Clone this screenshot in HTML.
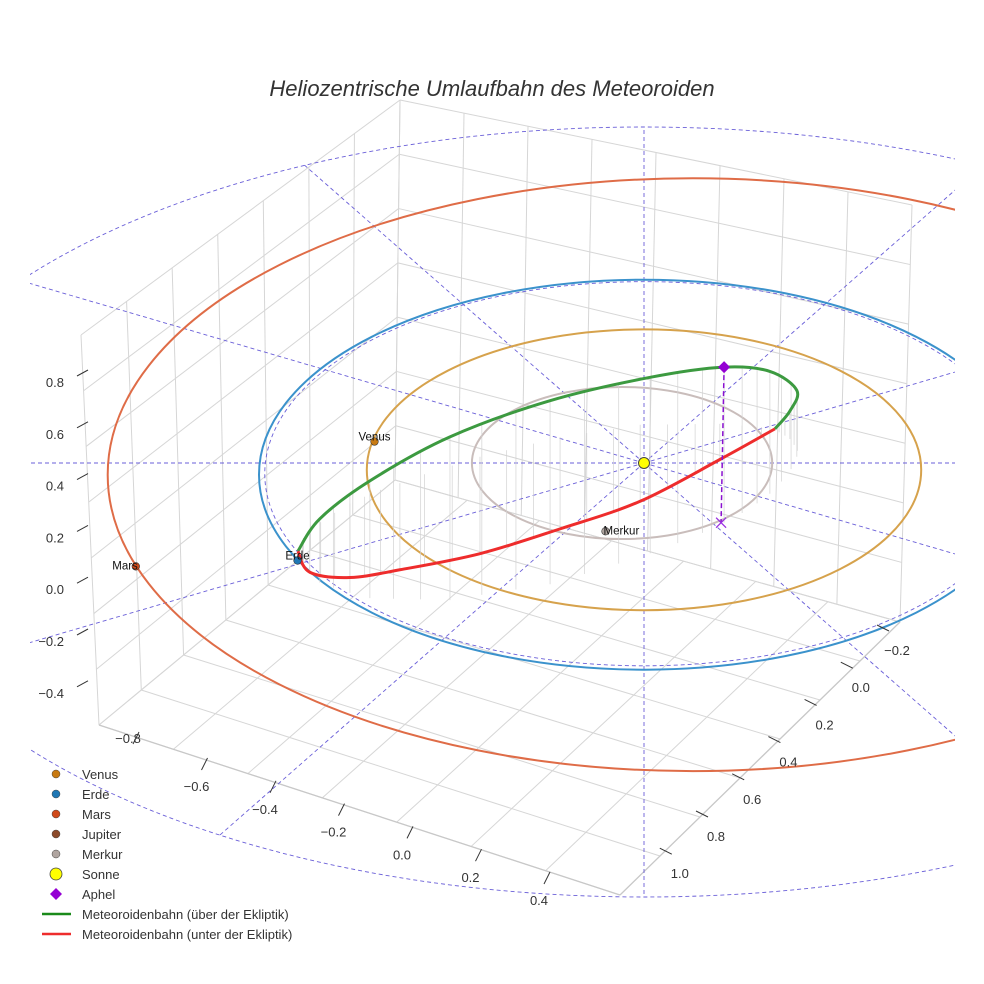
<!DOCTYPE html>
<html><head><meta charset="utf-8"><style>
body{margin:0;background:#fff}
svg{display:block;font-family:"Liberation Sans",sans-serif}
</style></head><body>
<svg id="c" width="984" height="984" viewBox="0 0 984 984">
<rect width="984" height="984" fill="#fff"/>
<defs><clipPath id="clip"><rect x="30" y="0" width="925" height="984"/></clipPath></defs>
<g id="grid"></g>
<g id="plot" clip-path="url(#clip)"></g>
<g id="ticks"></g>
<text x="492" y="96" text-anchor="middle" font-size="22" font-style="italic" fill="#333">Heliozentrische Umlaufbahn des Meteoroiden</text>
<g id="legend"></g>
</svg>
<script>
// ---- data ----
const planetNames = ["Venus","Erde","Mars","Merkur"];
const planetU = [-0.70,-0.90,-1.32,-0.10];
const planetV = [-0.11,0.50,0.53,0.35];
const orbitNames = ["Merkur","Venus","Erde","Mars"];
const orbitR = [0.39,0.72,1.0,1.52];
const orbitCU = [-0.057,0,0,0.127];
const orbitCV = [0,0.035,0.06,0.06];
const greenU = [-0.899,-0.842,-0.712,-0.504,-0.244,0.016,0.208,0.327,0.397,0.379,0.340];
const greenV = [0.452,0.613,0.693,0.703,0.622,0.463,0.306,0.158,-0.032,-0.123,-0.175];
const greenZ = [0,0.25,0.46,0.64,0.72,0.69,0.61,0.48,0.26,0.11,0];
const redU = [0.340,0.197,-0.010,-0.218,-0.426,-0.634,-0.764,-0.868,-0.899];
const redV = [-0.175,-0.201,-0.196,-0.133,-0.032,0.103,0.208,0.351,0.452];
const redZ = [0,-0.14,-0.30,-0.36,-0.38,-0.34,-0.29,-0.16,0];
const aphel = [0.208,0.306,0.61];
const zTicks = ["0.8","0.6","0.4","0.2","0.0","−0.2","−0.4"];
const xTicks = ["−0.8","−0.6","−0.4","−0.2","0.0","0.2","0.4"];
const yTicks = ["−0.2","0.0","0.2","0.4","0.6","0.8","1.0"];
const rayAngles = [0,30,60,90,120,150,180,210,240,270,300,330];
const legendLabels = ["Venus","Erde","Mars","Jupiter","Merkur","Sonne","Aphel","Meteoroidenbahn (über der Ekliptik)","Meteoroidenbahn (unter der Ekliptik)"];

// ---- projection ----
const CX=644, CY=463, SU=385, SV=195, SZ=255;
const px=(u)=>CX+SU*u;
const py=(v,z)=>CY+SV*v-SZ*(z||0);
const NS="http://www.w3.org/2000/svg";
function mk(tag,attrs,parent){const e=document.createElementNS(NS,tag);for(const k in attrs)e.setAttribute(k,attrs[k]);parent.appendChild(e);return e;}
const grid=document.getElementById('grid'), plot=document.getElementById('plot'), ticks=document.getElementById('ticks'), legend=document.getElementById('legend');

// ---- box grid ----
const A=[99,725],B=[620,895],C=[900,622],D=[395,480],A2=[81,335],D2=[400,100],C2=[912,205];
const L=(p,q,t)=>[p[0]+(q[0]-p[0])*t,p[1]+(q[1]-p[1])*t];
function gl(p,q,w,col){const e=mk('line',{x1:p[0],y1:p[1],x2:q[0],y2:q[1],stroke:col||'#d6d6d6','stroke-width':w||1},grid);
}
for(let i=0;i<=7;i++){const t=i/7;gl(L(A,D,t),L(A2,D2,t));}
for(let i=0;i<=7;i++){const t=i/7;gl(L(A,A2,t),L(D,D2,t));}
for(let i=0;i<=8;i++){const t=i/8;gl(L(D,C,t),L(D2,C2,t));}
for(let i=0;i<=7;i++){const t=i/7;gl(L(D,D2,t),L(C,C2,t));}
for(let i=0;i<=7;i++){const t=i/7;gl(L(A,B,t),L(D,C,t));}
for(let i=0;i<=7;i++){const t=i/7;gl(L(A,D,t),L(B,C,t));}
gl(A,B,1.3,'#c8c8c8');gl(B,C,1.3,'#c8c8c8');

// ---- ticks ----
zTicks.forEach((s,i)=>{const y=382+i*51.8;
const t=mk('text',{x:64,y:y+5,'text-anchor':'end','font-size':13,fill:'#333'},ticks);t.textContent=s;

const m=mk('line',{x1:77,y1:y-6,x2:88,y2:y-12,stroke:'#333','stroke-width':1},ticks);
});
xTicks.forEach((s,i)=>{let x=128+i*68.5,y=786+ (i-1)*22.8; if(i===0)y=738;
const t=mk('text',{x:x,y:y+5,'text-anchor':'middle','font-size':13,fill:'#333'},ticks);t.textContent=s;

const bx=x+8,by=(i===0?760:y)-22;
const m=mk('line',{x1:bx-3,y1:by+6,x2:bx+3,y2:by-6,stroke:'#333','stroke-width':1},ticks);
});
yTicks.forEach((s,i)=>{const x=897-i*36.2,y=650+i*37.2;
const t=mk('text',{x:x,y:y+5,'text-anchor':'middle','font-size':13,fill:'#333'},ticks);t.textContent=s;

const m=mk('line',{x1:x-20,y1:y-25,x2:x-8,y2:y-19,stroke:'#333','stroke-width':1},ticks);
});

// ---- dashed outer ellipse & rays ----
const OE={cx:644,cy:512,rx:780,ry:385};
let e=mk('ellipse',{cx:OE.cx,cy:OE.cy,rx:OE.rx,ry:OE.ry,fill:'none',stroke:'#6a5fd8','stroke-width':0.9,'stroke-dasharray':'4,3'},plot);

rayAngles.forEach(a=>{const th=a*Math.PI/180;const dx=SU*Math.cos(th),dy=SV*Math.sin(th);
const ox=(CX-OE.cx)/OE.rx,oy=(CY-OE.cy)/OE.ry,ddx=dx/OE.rx,ddy=dy/OE.ry;
const qa=ddx*ddx+ddy*ddy,qb=2*(ox*ddx+oy*ddy),qc=ox*ox+oy*oy-1;
const t=(-qb+Math.sqrt(qb*qb-4*qa*qc))/(2*qa);
const r=mk('line',{x1:CX,y1:CY,x2:CX+dx*t,y2:CY+dy*t,stroke:'#6a5fd8','stroke-width':0.9,'stroke-dasharray':'4,3'},plot);
});
function ell(r,cu,cv,col,w,dash,name){const e=mk('ellipse',{cx:px(cu),cy:py(cv),rx:SU*r,ry:SV*r,fill:'none',stroke:col,'stroke-width':w},plot);
if(dash)e.setAttribute('stroke-dasharray',dash);}
ell(0.985,0,0.055,'#6a5fd8',0.9,'4,3','reference-circle-1au');
const orbitCols=['#c9bdbb','#d6a24c','#3b92cc','#df6c47'];
orbitR.forEach((r,i)=>ell(r,orbitCU[i],orbitCV[i],orbitCols[i],2,null,'orbit-'+orbitNames[i].toLowerCase()));

// ---- meteoroid ----
function pts(U,V,Z){return U.map((u,i)=>[px(u),py(V[i],Z[i]),px(u),py(V[i],0)]);}
function cr(P){let d='M'+P[0][0]+','+P[0][1];const samples=[];
for(let i=0;i<P.length-1;i++){const p0=P[Math.max(0,i-1)],p1=P[i],p2=P[i+1],p3=P[Math.min(P.length-1,i+2)];
const c1=[p1[0]+(p2[0]-p0[0])/6,p1[1]+(p2[1]-p0[1])/6],c2=[p2[0]-(p3[0]-p1[0])/6,p2[1]-(p3[1]-p1[1])/6];
d+=` C${c1[0]},${c1[1]} ${c2[0]},${c2[1]} ${p2[0]},${p2[1]}`;
for(let k=0;k<3;k++){const t=k/3,mt=1-t;
const bx=mt*mt*mt*p1[0]+3*mt*mt*t*c1[0]+3*mt*t*t*c2[0]+t*t*t*p2[0];
const by=mt*mt*mt*p1[1]+3*mt*mt*t*c1[1]+3*mt*t*t*c2[1]+t*t*t*p2[1];
const fy=p1[3]+(p2[3]-p1[3])*t;samples.push([bx,by,fy]);}}
return {d,samples};}
const G=cr(pts(greenU,greenV,greenZ)), R=cr(pts(redU,redV,redZ));
G.samples.concat(R.samples).forEach(s=>{const l=mk('line',{x1:s[0],y1:s[1],x2:s[0],y2:s[2],stroke:'#d2d2d2','stroke-width':0.7},plot);
});
e=mk('path',{d:G.d,fill:'none',stroke:'#3c9a40','stroke-width':3},plot);

e=mk('path',{d:R.d,fill:'none',stroke:'#ee2c2c','stroke-width':3},plot);

// aphel
const ax=px(aphel[0]),ay=py(aphel[1],aphel[2]),fy=py(aphel[1],0);
e=mk('line',{x1:ax,y1:ay,x2:ax-3,y2:fy,stroke:'#8a10d0','stroke-width':1.5,'stroke-dasharray':'5,3'},plot);

e=mk('path',{d:`M${ax},${ay-6}L${ax+6},${ay}L${ax},${ay+6}L${ax-6},${ay}Z`,fill:'#9400d3'},plot);

e=mk('path',{d:`M${ax-8},${fy-5}L${ax+2},${fy+5}M${ax+2},${fy-5}L${ax-8},${fy+5}`,stroke:'#9a30e0','stroke-width':1.3},plot);

// planets
const pcols=['#c87a12','#1f77b4','#d04a1a','#b0a5a0'];
planetNames.forEach((n,i)=>{const x=px(planetU[i]),y=py(planetV[i]);
const c=mk('circle',{cx:x,cy:y,r:3.8,fill:pcols[i],stroke:'#333','stroke-width':0.6},plot);

const t=mk('text',{x:x+(i===3?-2:0),y:y-1+(i===3?4:(i===2?4:0)),'text-anchor':i===3?'start':'middle','font-size':11.5,fill:'#111'},plot);t.textContent=n;
if(i===2){t.setAttribute('text-anchor','end');t.setAttribute('x',x+2);}
});
e=mk('circle',{cx:CX,cy:CY,r:5.5,fill:'#ffff00',stroke:'#444','stroke-width':1},plot);


// ---- legend ----
const lcols=['#c87a12','#1f77b4','#d04a1a','#8c4a2a','#b0a5a0','#ffff00','#9400d3','#1a8a1a','#ee2c2c'];
legendLabels.forEach((s,i)=>{const y=774+i*20;const g=mk('g',{},legend);

if(i<5)mk('circle',{cx:56,cy:y,r:4,fill:lcols[i],stroke:'#444','stroke-width':0.5},g);
else if(i===5)mk('circle',{cx:56,cy:y,r:6,fill:lcols[i],stroke:'#444','stroke-width':0.8},g);
else if(i===6)mk('path',{d:`M56,${y-6}L62,${y}L56,${y+6}L50,${y}Z`,fill:lcols[i]},g);
else mk('line',{x1:42,y1:y,x2:71,y2:y,stroke:lcols[i],'stroke-width':2.5},g);
const t=mk('text',{x:82,y:y+5,'font-size':13,fill:'#333'},g);t.textContent=s;});
</script>
</body></html>
